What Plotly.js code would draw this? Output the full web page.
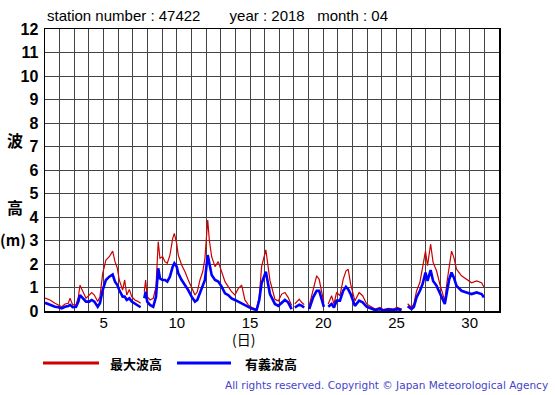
<!DOCTYPE html>
<html><head><meta charset="utf-8">
<script src="https://cdn.plot.ly/plotly-3.0.1.min.js"></script>
<style>html,body{margin:0;padding:0;background:#fff}#c{width:555px;height:395px}</style>
</head><body><div id="c"></div>
<script>
var days = [1.00,1.07,1.34,1.68,1.91,2.14,2.37,2.59,2.71,2.89,3.12,3.28,3.39,3.57,3.80,4.02,4.19,4.37,4.60,4.75,4.94,5.16,5.39,5.62,5.78,5.94,6.07,6.30,6.44,6.58,6.76,6.92,7.14,7.37,7.53,7.60,7.78,7.87,7.98,8.17,8.39,8.58,8.73,8.85,9.03,9.19,9.35,9.53,9.72,9.83,9.99,10.10,10.33,10.56,10.78,11.01,11.24,11.40,11.58,11.77,11.92,12.11,12.22,12.38,12.61,12.83,13.06,13.29,13.51,13.74,13.97,14.20,14.43,14.65,14.88,15.11,15.45,15.63,15.79,16.08,16.36,16.70,16.93,17.16,17.38,17.60,17.84,17.90,18.06,18.36,18.52,18.70,18.85,19.04,19.31,19.55,19.72,19.89,20.04,20.15,20.34,20.57,20.73,20.91,21.14,21.36,21.55,21.70,21.87,22.16,22.45,22.69,22.96,23.30,23.53,23.87,24.10,24.44,24.78,25.05,25.35,25.50,25.76,26.03,26.19,26.37,26.60,26.78,26.98,27.12,27.33,27.50,27.74,27.96,28.15,28.30,28.46,28.60,28.76,28.92,29.10,29.44,29.78,30.13,30.47,30.81,30.97];
var maxWave = [0.55,0.54,0.47,0.33,0.26,0.18,0.30,0.33,0.54,0.26,0.26,0.61,1.10,0.82,0.54,0.68,0.78,0.68,0.40,0.61,1.60,2.17,2.31,2.55,2.10,1.82,1.32,0.89,1.32,0.68,0.92,0.61,0.47,0.40,0.33,null,0.82,1.32,0.61,0.47,0.54,1.04,2.95,2.24,2.31,2.10,2.03,2.38,3.09,3.30,2.88,2.38,1.96,1.67,1.32,0.96,0.68,0.82,1.32,1.67,2.24,3.87,3.02,2.31,1.89,2.10,1.67,1.25,1.04,0.82,0.68,0.96,1.10,0.47,0.26,0.16,0.07,0.61,1.89,2.60,1.30,0.50,0.43,0.72,0.79,0.58,0.23,null,0.30,0.50,0.37,0.27,null,0.23,0.93,1.50,1.35,0.85,0.37,null,0.30,0.65,0.30,0.79,0.65,1.35,1.70,1.78,1.14,0.43,0.79,0.65,0.30,0.15,0.08,0.15,0.05,0.11,0.08,0.15,0.08,null,0.31,0.15,0.30,0.85,1.22,1.85,2.55,1.93,2.85,2.07,1.70,1.14,0.72,0.43,1.28,1.99,2.55,2.27,1.78,1.50,1.35,1.20,1.28,1.20,1.02];
var sigWave = [0.35,0.33,0.26,0.18,0.16,0.11,0.18,0.21,0.26,0.16,0.18,0.40,0.68,0.54,0.40,0.40,0.47,0.40,0.18,0.33,0.89,1.32,1.46,1.55,1.25,1.10,0.89,0.61,0.61,0.47,0.54,0.40,0.30,0.21,0.16,null,0.54,0.82,0.40,0.26,0.18,0.61,1.82,1.39,1.32,1.32,1.25,1.46,1.89,2.03,1.89,1.60,1.32,1.10,0.89,0.61,0.40,0.47,0.75,1.04,1.32,2.38,1.96,1.53,1.32,1.25,1.04,0.75,0.68,0.54,0.47,0.40,0.33,0.26,0.16,0.10,0.04,0.47,1.18,1.67,0.72,0.30,0.22,0.37,0.47,0.37,0.08,null,0.15,0.27,0.23,0.15,null,0.08,0.58,0.86,0.86,0.50,0.18,null,0.18,0.30,0.15,0.44,0.44,0.86,1.03,0.93,0.72,0.22,0.44,0.37,0.18,0.08,0.04,0.08,0.03,0.06,0.04,0.08,0.04,null,0.20,0.08,0.18,0.58,0.86,1.14,1.64,1.28,1.74,1.28,1.07,0.79,0.50,0.30,0.86,1.35,1.64,1.42,1.07,0.86,0.79,0.72,0.79,0.72,0.58];
var xTickVals = [];
var xTickText = [];
for (var d = 1; d <= 32; d++) { xTickVals.push(d); xTickText.push(d % 5 === 0 ? String(d) : ''); }
var yTickVals = [0,1,2,3,4,5,6,7,8,9,10,11,12];
var seriesNames = ['最大波高', '有義波高'];
var titleText = 'station number : 47422&nbsp;&nbsp;&nbsp;&nbsp;&nbsp;&nbsp;&nbsp;year : 2018&nbsp;&nbsp;&nbsp;month : 04';

var traces = [
  {x: days, y: maxWave, type: 'scatter', mode: 'lines', name: seriesNames[0],
   line: {color: '#cc0000', width: 1.2}, connectgaps: false},
  {x: days, y: sigWave, type: 'scatter', mode: 'lines', name: seriesNames[1],
   line: {color: '#0000ff', width: 2.6}, connectgaps: false}
];
var W = 454, H = 282;
function px(x){ return (x - 45) / W; }
function py(y){ return (311 - y) / H; }
function note(text, x, y, font, xa){
  return {text: text, xref: 'paper', yref: 'paper', x: px(x), y: py(y), showarrow: false,
          xanchor: xa || 'center', yanchor: 'middle', font: font};
}
var layout = {
  width: 555, height: 395,
  margin: {l: 45, r: 56, t: 29, b: 84},
  paper_bgcolor: '#fff', plot_bgcolor: '#fff',
  showlegend: false,
  font: {family: 'Liberation Sans, Arial, sans-serif', color: '#000'},
  title: {text: titleText, x: 47/555, xanchor: 'left', xref: 'container',
          y: 1 - 16/395, yanchor: 'middle', yref: 'container',
          font: {size: 15, family: 'Liberation Sans, Arial, sans-serif', color: '#000'}},
  xaxis: {range: [1, 32], tickvals: xTickVals, ticktext: xTickText, showgrid: true,
          gridcolor: '#444', gridwidth: 1, showline: true, linecolor: '#000', linewidth: 1.5,
          mirror: true, ticks: '', zeroline: false, fixedrange: true, ticklabelstandoff: -3,
          tickfont: {size: 15, color: '#000'}},
  yaxis: {range: [0, 12], tickvals: yTickVals, showgrid: true, gridcolor: '#444', gridwidth: 1,
          showline: true, linecolor: '#000', linewidth: 1.5, mirror: true, ticks: '',
          zeroline: false, fixedrange: true, ticklabelstandoff: 2,
          tickfont: {size: 16, color: '#000', weight: 'bold'}},
  shapes: [
    {type: 'line', xref: 'paper', yref: 'paper', x0: px(43), x1: px(99), y0: py(363), y1: py(363),
     line: {color: '#cc0000', width: 3}},
    {type: 'line', xref: 'paper', yref: 'paper', x0: px(177), x1: px(231), y0: py(363), y1: py(363),
     line: {color: '#0000ff', width: 3}}
  ],
  annotations: [
    note('波', 15, 140, {size: 16, family: 'Noto Sans CJK JP', weight: 'bold'}),
    note('高', 15, 207, {size: 16, family: 'Noto Sans CJK JP', weight: 'bold'}),
    note('(m)', 13, 239, {size: 15, family: 'Noto Sans CJK JP', weight: 'bold'}),
    note('(日)', 243, 339, {size: 14, family: 'Noto Sans CJK JP'}),
    note(seriesNames[0], 108, 363, {size: 13, family: 'Noto Sans CJK JP', weight: 'bold'}, 'left'),
    note(seriesNames[1], 243, 363, {size: 13, family: 'Noto Sans CJK JP', weight: 'bold'}, 'left'),
    note('All rights reserved. Copyright © Japan Meteorological Agency', 550, 385,
         {size: 10.5, family: 'DejaVu Sans', color: '#4444cc'}, 'right')
  ]
};
Plotly.newPlot('c', traces, layout, {staticPlot: true, displayModeBar: false});
</script></body></html>
